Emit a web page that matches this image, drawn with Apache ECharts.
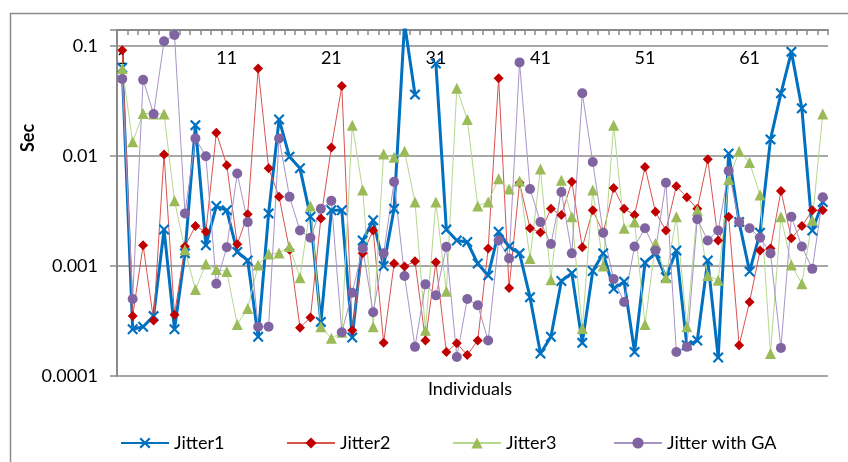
<!DOCTYPE html>
<html>
<head>
<meta charset="utf-8">
<script src="https://cdn.jsdelivr.net/npm/echarts@6/dist/echarts.min.js"></script>
<style>
  html, body { margin: 0; padding: 0; background: #fff; }
  #chart { width: 848px; height: 462px; }
</style>
</head>
<body>
<div id="chart"></div>
<script>
// individuals 1..68
var categories = Array.from({ length: 68 }, function (_, i) { return String(i + 1); });

var jitter1 = [0.063, 0.000266, 0.00028, 0.00035, 0.00214, 0.000266, 0.0013, 0.019, 0.00154, 0.0035,
  0.0032, 0.00134, 0.00112, 0.000227, 0.003, 0.0214, 0.0098, 0.0077, 0.0028, 0.00031,
  0.0032, 0.0032, 0.000224, 0.0017, 0.0026, 0.001, 0.0033, 0.16, 0.036, null,
  0.069, 0.00214, 0.0017, 0.00165, 0.00105, 0.00082, 0.00204, 0.0015, 0.0013, 0.00052,
  0.00016, 0.000227, 0.00073, 0.00086, 0.0002, 0.0009, 0.0013, 0.00062, 0.00072, 0.000165,
  0.00107, 0.0013, 0.00079, 0.00138, 0.00019, 0.00021, 0.00112, 0.000147, 0.0105, 0.0025,
  0.00089, 0.002, 0.0141, 0.037, 0.088, 0.027, 0.0021, 0.0038];

var jitter2 = [0.091, 0.00035, 0.00154, 0.00032, 0.0103, 0.00036, 0.0015, 0.0023, 0.00204, 0.0162,
  0.0082, 0.00157, 0.00294, 0.062, 0.0077, 0.00424, 0.0014, 0.000275, 0.00034, 0.0027,
  0.0119, 0.043, 0.00026, 0.0013, 0.0021, 0.0002, 0.00105, 0.00099, 0.0011, 0.00021,
  0.00108, 0.000165, 0.000198, 0.000155, 0.00021, 0.00144, 0.0506, 0.00063, 0.0057, 0.0022,
  0.00201, 0.0033, 0.0029, 0.0058, 0.00148, 0.0032, 0.002, 0.0051, 0.0033, 0.0029,
  0.0079, 0.0031, 0.0021, 0.0053, 0.0042, 0.0033, 0.0093, 0.0017, 0.0028, 0.00019,
  0.00047, 0.00138, 0.00144, 0.0048, 0.00178, 0.0023, 0.0032, 0.0032];

var jitter3 = [0.062, 0.0134, 0.0243, 0.024, 0.024, 0.0039, 0.0014, 0.00061, 0.00104, 0.00093,
  0.00089, 0.000294, 0.00041, 0.00102, 0.00128, 0.00131, 0.0015, 0.00078, 0.0035, 0.00028,
  0.00022, 0.00025, 0.019, 0.0049, 0.00028, 0.0104, 0.0097, 0.011, 0.0038, 0.00026,
  0.0038, 0.00059, 0.041, 0.0214, 0.0035, 0.0038, 0.0062, 0.005, 0.0059, 0.00117,
  0.0076, 0.00075, 0.006, 0.0028, 0.00027, 0.0049, 0.001, 0.019, 0.0022, 0.0025,
  0.000294, 0.0016, 0.00078, 0.0028, 0.00028, 0.0032, 0.00082, 0.00074, 0.0061, 0.011,
  0.0087, 0.0044, 0.00016, 0.0028, 0.00102, 0.00069, 0.0026, 0.024];

var jitterGA = [0.05, 0.0005, 0.049, 0.024, 0.11, 0.125, 0.003, 0.0144, 0.0099, 0.00069,
  0.00148, 0.0069, 0.0025, 0.00028, 0.00028, 0.0144, 0.00424, 0.0021, 0.0018, 0.0033,
  0.0039, 0.00025, 0.00057, 0.00144, 0.00038, 0.0013, 0.0058, 0.00081, 0.000184, 0.00068,
  0.00054, 0.00149, 0.000149, 0.0005, 0.00044, 0.00021, 0.0017, 0.00117, 0.0706, 0.005,
  0.0025, 0.00158, 0.0047, 0.0013, 0.037, 0.0088, 0.002, 0.00076, 0.00047, 0.0015,
  0.0022, 0.00138, 0.0057, 0.000165, 0.000184, 0.00266, 0.0017, 0.0021, 0.0073, 0.0025,
  0.0022, 0.0018, 0.0013, 0.00018, 0.0028, 0.0015, 0.00094, 0.0042];

var yTickLabels = { '-4': '0.0001', '-3': '0.001', '-2': '0.01', '-1': '0.1' };

var FONT = 'Lato, "Open Sans", sans-serif';
var GRAY = '#8a8a8a';
var crossPath = 'path://M1.4,0 L5,3.6 L8.6,0 L10,1.4 L6.4,5 L10,8.6 L8.6,10 L5,6.4 L1.4,10 L0,8.6 L3.6,5 L0,1.4 Z';

var chart = echarts.init(document.getElementById('chart'));

function legendAt(name, left) {
    return {
        data: [name],
        left: left,
        top: 429,
        itemWidth: 48,
        itemHeight: 14,
        itemGap: 5,
        textStyle: { color: '#000', fontSize: 18, fontFamily: FONT }
    };
}

chart.setOption({
    animation: false,
    backgroundColor: '#fff',
    grid: { left: 117, right: 20, top: 30, bottom: 86, containLabel: false },
    legend: [
        legendAt('Jitter1', 115),
        legendAt('Jitter2', 281),
        legendAt('Jitter3', 447),
        legendAt('Jitter with GA', 608)
    ],
    xAxis: {
        type: 'category',
        position: 'top',
        data: categories,
        boundaryGap: true,
        axisLine: { onZero: false, lineStyle: { color: GRAY, width: 2 } },
        axisTick: { show: true, inside: true, length: 5, interval: 0, lineStyle: { color: GRAY, width: 1.5 } },
        axisLabel: {
            inside: true,
            interval: 9,
            margin: 19,
            color: '#000',
            fontSize: 18,
            fontFamily: FONT
        },
        splitLine: { show: false }
    },
    yAxis: {
        type: 'log',
        logBase: 10,
        min: 0.0001,
        max: 0.139,
        axisLine: { show: true, lineStyle: { color: GRAY, width: 2 } },
        axisTick: { show: true, length: 7, lineStyle: { color: GRAY, width: 1.5 } },
        axisLabel: {
            margin: 19,
            color: '#000',
            fontSize: 18,
            fontFamily: FONT,
            formatter: function (v) {
                var e = Math.round(Math.log10(v));
                if (Math.abs(Math.log10(v) - e) > 1e-6) return '';
                return yTickLabels[String(e)] || '';
            }
        },
        splitLine: { show: true, lineStyle: { color: GRAY, width: 1.5 } }
    },
    graphic: [
        {
            type: 'rect',
            shape: { x: 10.5, y: 13.5, width: 900, height: 500 },
            style: { fill: 'none', stroke: '#8c8c8c', lineWidth: 1.5 },
            silent: true,
            z: -10
        },
        {
            type: 'text',
            x: 470, y: 389,
            style: { text: 'Individuals', fill: '#000', font: '18px ' + FONT, textAlign: 'center', textVerticalAlign: 'middle' }
        },
        {
            type: 'text',
            x: 28, y: 138,
            rotation: Math.PI / 2,
            style: { text: 'Sec', fill: '#000', font: 'bold 18px ' + FONT, textAlign: 'center', textVerticalAlign: 'middle' }
        }
    ],
    series: [
        {
            name: 'Jitter1',
            type: 'line',
            data: jitter1,
            showAllSymbol: true,
            symbol: crossPath,
            symbolSize: 11,
            connectNulls: false,
            itemStyle: { color: '#0070C0' },
            lineStyle: { color: '#0070C0', width: 3 }
        },
        {
            name: 'Jitter2',
            type: 'line',
            data: jitter2,
            showAllSymbol: true,
            symbol: 'diamond',
            symbolSize: 10,
            itemStyle: { color: '#C00000' },
            lineStyle: { color: '#D9534F', width: 1 }
        },
        {
            name: 'Jitter3',
            type: 'line',
            data: jitter3,
            showAllSymbol: true,
            symbol: 'triangle',
            symbolSize: 11,
            itemStyle: { color: '#9BBB59' },
            lineStyle: { color: '#B5D88F', width: 1 }
        },
        {
            name: 'Jitter with GA',
            type: 'line',
            data: jitterGA,
            showAllSymbol: true,
            symbol: 'circle',
            symbolSize: 10,
            itemStyle: { color: '#8064A2' },
            lineStyle: { color: '#A894C8', width: 1 }
        }
    ]
});
</script>
</body>
</html>
